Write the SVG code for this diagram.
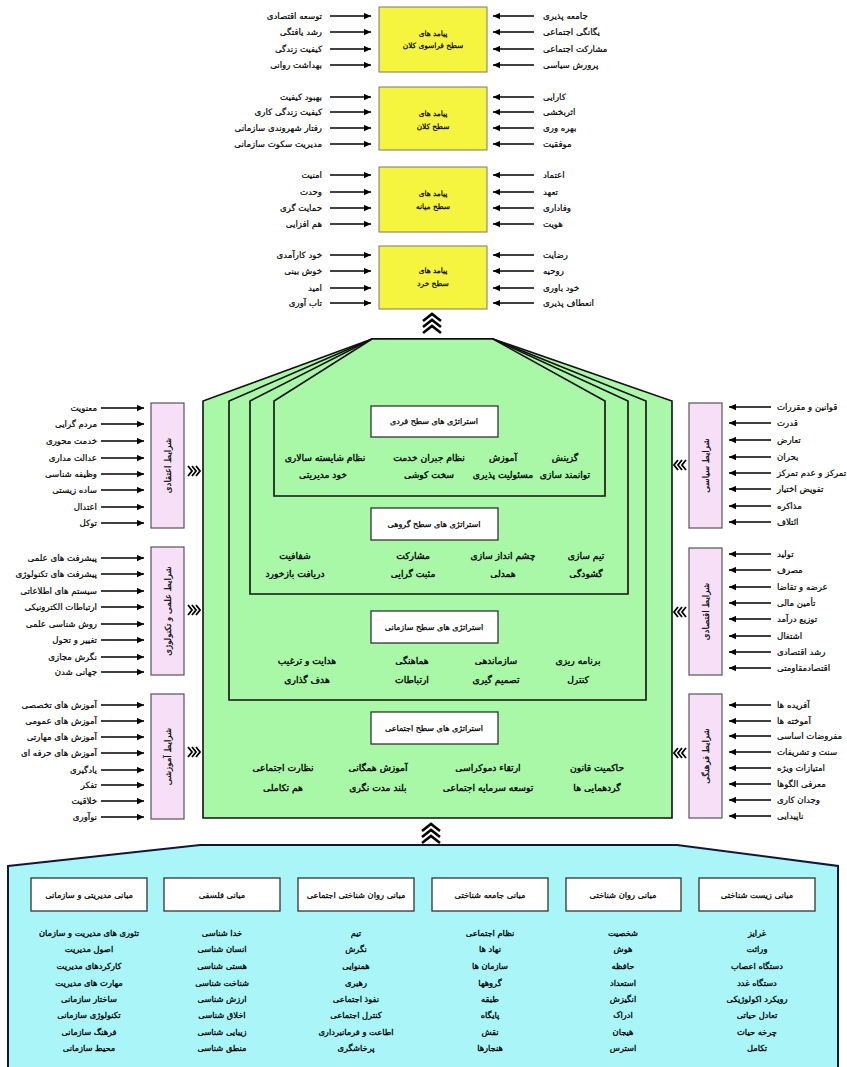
<svg xmlns="http://www.w3.org/2000/svg" width="847" height="1067" viewBox="0 0 847 1067">
<defs>
<marker id="ah" viewBox="0 0 10 10" refX="10" refY="5" markerWidth="8" markerHeight="7" orient="auto" markerUnits="userSpaceOnUse"><path d="M0,0.5 L10,5 L0,9.5 Z" fill="#000"/></marker>
<style>
text{font-family:"DejaVu Sans","Noto Sans",sans-serif;fill:#000;stroke:#000;dominant-baseline:central}
.lr{font-size:8.6px;stroke-width:0.2;text-anchor:end}
.ll{font-size:8.6px;stroke-width:0.2;text-anchor:start}
.bx{font-size:7.4px;stroke-width:0.25;text-anchor:middle}
.it{font-size:9.2px;stroke-width:0.35;text-anchor:middle}
.hd{font-size:8px;stroke-width:0.25;text-anchor:middle}
.hd2{font-size:8.3px;stroke-width:0.25;text-anchor:middle}
.vt{font-size:8.6px;stroke-width:0.2;text-anchor:middle}
.bt{font-size:8.3px;stroke-width:0.3;text-anchor:middle}
.ar{stroke:#000;stroke-width:1.4;fill:none;marker-end:url(#ah)}
.yel{fill:#f5f540;stroke:#777;stroke-width:1}
.pink{fill:#f8dff8;stroke:#555;stroke-width:1.2}
.wht{fill:#fff;stroke:#333;stroke-width:1.3}
.grn{fill:#a8f8a8;stroke:#111;stroke-width:1.6}
.chev{fill:none;stroke:#000;stroke-width:2.6}
.chs{fill:none;stroke:#000;stroke-width:1.8}
</style>
</defs>

<!-- Connectors -->
<g id="connectors">
  <line class="ar" x1="330" y1="16" x2="371" y2="16"/><line class="ar" x1="330" y1="32" x2="371" y2="32"/><line class="ar" x1="330" y1="49" x2="371" y2="49"/><line class="ar" x1="330" y1="65" x2="371" y2="65"/>
  <line class="ar" x1="330" y1="97" x2="371" y2="97"/><line class="ar" x1="330" y1="112" x2="371" y2="112"/><line class="ar" x1="330" y1="128" x2="371" y2="128"/><line class="ar" x1="330" y1="144" x2="371" y2="144"/>
  <line class="ar" x1="330" y1="175" x2="371" y2="175"/><line class="ar" x1="330" y1="192" x2="371" y2="192"/><line class="ar" x1="330" y1="208" x2="371" y2="208"/><line class="ar" x1="330" y1="224" x2="371" y2="224"/>
  <line class="ar" x1="330" y1="255" x2="371" y2="255"/><line class="ar" x1="330" y1="271" x2="371" y2="271"/><line class="ar" x1="330" y1="288" x2="371" y2="288"/><line class="ar" x1="330" y1="303" x2="371" y2="303"/>
  <line class="ar" x1="534" y1="16" x2="493" y2="16"/><line class="ar" x1="534" y1="32" x2="493" y2="32"/><line class="ar" x1="534" y1="49" x2="493" y2="49"/><line class="ar" x1="534" y1="65" x2="493" y2="65"/>
  <line class="ar" x1="534" y1="97" x2="493" y2="97"/><line class="ar" x1="534" y1="112" x2="493" y2="112"/><line class="ar" x1="534" y1="128" x2="493" y2="128"/><line class="ar" x1="534" y1="144" x2="493" y2="144"/>
  <line class="ar" x1="534" y1="175" x2="493" y2="175"/><line class="ar" x1="534" y1="192" x2="493" y2="192"/><line class="ar" x1="534" y1="208" x2="493" y2="208"/><line class="ar" x1="534" y1="224" x2="493" y2="224"/>
  <line class="ar" x1="534" y1="255" x2="493" y2="255"/><line class="ar" x1="534" y1="271" x2="493" y2="271"/><line class="ar" x1="534" y1="288" x2="493" y2="288"/><line class="ar" x1="534" y1="303" x2="493" y2="303"/>
  <line class="ar" x1="101" y1="408" x2="144" y2="408"/><line class="ar" x1="101" y1="424" x2="144" y2="424"/><line class="ar" x1="101" y1="441" x2="144" y2="441"/><line class="ar" x1="101" y1="458" x2="144" y2="458"/><line class="ar" x1="101" y1="474" x2="144" y2="474"/><line class="ar" x1="101" y1="490" x2="144" y2="490"/><line class="ar" x1="101" y1="507" x2="144" y2="507"/><line class="ar" x1="101" y1="523" x2="144" y2="523"/>
  <line class="ar" x1="101" y1="558" x2="144" y2="558"/><line class="ar" x1="101" y1="574" x2="144" y2="574"/><line class="ar" x1="101" y1="591" x2="144" y2="591"/><line class="ar" x1="101" y1="607" x2="144" y2="607"/><line class="ar" x1="101" y1="624" x2="144" y2="624"/><line class="ar" x1="101" y1="640" x2="144" y2="640"/><line class="ar" x1="101" y1="657" x2="144" y2="657"/><line class="ar" x1="101" y1="672" x2="144" y2="672"/>
  <line class="ar" x1="101" y1="705" x2="144" y2="705"/><line class="ar" x1="101" y1="721" x2="144" y2="721"/><line class="ar" x1="101" y1="737" x2="144" y2="737"/><line class="ar" x1="101" y1="753" x2="144" y2="753"/><line class="ar" x1="101" y1="770" x2="144" y2="770"/><line class="ar" x1="101" y1="785" x2="144" y2="785"/><line class="ar" x1="101" y1="801" x2="144" y2="801"/><line class="ar" x1="101" y1="817" x2="144" y2="817"/>
  <line class="ar" x1="771" y1="407" x2="729" y2="407"/><line class="ar" x1="771" y1="423" x2="729" y2="423"/><line class="ar" x1="771" y1="440" x2="729" y2="440"/><line class="ar" x1="771" y1="457" x2="729" y2="457"/><line class="ar" x1="771" y1="473" x2="729" y2="473"/><line class="ar" x1="771" y1="489" x2="729" y2="489"/><line class="ar" x1="771" y1="506" x2="729" y2="506"/><line class="ar" x1="771" y1="522" x2="729" y2="522"/>
  <line class="ar" x1="771" y1="554" x2="729" y2="554"/><line class="ar" x1="771" y1="570" x2="729" y2="570"/><line class="ar" x1="771" y1="587" x2="729" y2="587"/><line class="ar" x1="771" y1="603" x2="729" y2="603"/><line class="ar" x1="771" y1="619" x2="729" y2="619"/><line class="ar" x1="771" y1="636" x2="729" y2="636"/><line class="ar" x1="771" y1="652" x2="729" y2="652"/><line class="ar" x1="771" y1="668" x2="729" y2="668"/>
  <line class="ar" x1="771" y1="705" x2="729" y2="705"/><line class="ar" x1="771" y1="721" x2="729" y2="721"/><line class="ar" x1="771" y1="736" x2="729" y2="736"/><line class="ar" x1="771" y1="752" x2="729" y2="752"/><line class="ar" x1="771" y1="768" x2="729" y2="768"/><line class="ar" x1="771" y1="784" x2="729" y2="784"/><line class="ar" x1="771" y1="800" x2="729" y2="800"/><line class="ar" x1="771" y1="816" x2="729" y2="816"/>
  <polyline class="chev" points="423,321 432,314 441,321"/><polyline class="chev" points="423,327 432,320 441,327"/><polyline class="chev" points="423,333 432,326 441,333"/>
  <polyline class="chev" points="422,831 431,824 440,831"/><polyline class="chev" points="422,837 431,830 440,837"/><polyline class="chev" points="422,843 431,836 440,843"/>
  <polyline class="chs" points="188,466 192,471 188,476"/><polyline class="chs" points="192,466 196,471 192,476"/><polyline class="chs" points="196,466 200,471 196,476"/>
  <polyline class="chs" points="188,605 192,610 188,615"/><polyline class="chs" points="192,605 196,610 192,615"/><polyline class="chs" points="196,605 200,610 196,615"/>
  <polyline class="chs" points="188,747 192,752 188,757"/><polyline class="chs" points="192,747 196,752 192,757"/><polyline class="chs" points="196,747 200,752 196,757"/>
  <polyline class="chs" points="686,460 682,465 686,470"/><polyline class="chs" points="682,460 678,465 682,470"/><polyline class="chs" points="678,460 674,465 678,470"/>
  <polyline class="chs" points="686,607 682,612 686,617"/><polyline class="chs" points="682,607 678,612 682,617"/><polyline class="chs" points="678,607 674,612 678,617"/>
  <polyline class="chs" points="686,748 682,753 686,758"/><polyline class="chs" points="682,748 678,753 682,758"/><polyline class="chs" points="678,748 674,753 678,758"/>
</g>

<!-- Top outcome boxes -->
<g id="outcome-macro-plus">
  <rect class="yel" x="379" y="7" width="108" height="65"/>
  <text class="bx" x="433" y="33">پیامد های</text><text class="bx" x="433" y="45">سطح فراسوی کلان</text>
  <text class="lr" x="322" y="16">توسعه اقتصادی</text><text class="lr" x="322" y="32">رشد یافتگی</text><text class="lr" x="322" y="49">کیفیت زندگی</text><text class="lr" x="322" y="65">بهداشت روانی</text>
  <text class="ll" x="543" y="16">جامعه پذیری</text><text class="ll" x="543" y="32">یگانگی اجتماعی</text><text class="ll" x="543" y="49">مشارکت اجتماعی</text><text class="ll" x="543" y="65">پرورش سیاسی</text>
</g>
<g id="outcome-macro">
  <rect class="yel" x="379" y="87" width="108" height="63"/>
  <text class="bx" x="433" y="113">پیامد های</text><text class="bx" x="433" y="126">سطح کلان</text>
  <text class="lr" x="322" y="97">بهبود کیفیت</text><text class="lr" x="322" y="112">کیفیت زندگی کاری</text><text class="lr" x="322" y="128">رفتار شهروندی سازمانی</text><text class="lr" x="322" y="144">مدیریت سکوت سازمانی</text>
  <text class="ll" x="543" y="97">کارایی</text><text class="ll" x="543" y="112">اثربخشی</text><text class="ll" x="543" y="128">بهره وری</text><text class="ll" x="543" y="144">موفقیت</text>
</g>
<g id="outcome-meso">
  <rect class="yel" x="379" y="167" width="108" height="65"/>
  <text class="bx" x="433" y="193">پیامد های</text><text class="bx" x="433" y="206">سطح میانه</text>
  <text class="lr" x="322" y="175">امنیت</text><text class="lr" x="322" y="192">وحدت</text><text class="lr" x="322" y="208">حمایت گری</text><text class="lr" x="322" y="224">هم افزایی</text>
  <text class="ll" x="543" y="175">اعتماد</text><text class="ll" x="543" y="192">تعهد</text><text class="ll" x="543" y="208">وفاداری</text><text class="ll" x="543" y="224">هویت</text>
</g>
<g id="outcome-micro">
  <rect class="yel" x="379" y="246" width="108" height="63"/>
  <text class="bx" x="433" y="270">پیامد های</text><text class="bx" x="433" y="283">سطح خرد</text>
  <text class="lr" x="322" y="255">خود کارآمدی</text><text class="lr" x="322" y="271">خوش بینی</text><text class="lr" x="322" y="288">امید</text><text class="lr" x="322" y="303">تاب آوری</text>
  <text class="ll" x="543" y="255">رضایت</text><text class="ll" x="543" y="271">روحیه</text><text class="ll" x="543" y="288">خود باوری</text><text class="ll" x="543" y="303">انعطاف پذیری</text>
</g>

<!-- Central strategies -->
<g id="strategy-social">
  <polygon class="grn" points="372,339 493,339 672,401 672,818 203,818 203,401"/>
</g>
<g id="strategy-organizational">
  <polygon class="grn" points="372,339 493,339 646,401 646,700 229,700 229,401"/>
</g>
<g id="strategy-group">
  <polygon class="grn" points="372,339 493,339 628,401 628,594 250,594 250,401"/>
</g>
<g id="strategy-individual">
  <polygon class="grn" points="372,339 493,339 605,401 605,496 274,496 274,401"/>
  <rect class="wht" x="371" y="406" width="127" height="31"/>
  <text class="hd" x="434" y="421">استراتژی های سطح فردی</text>
  <text class="it" x="565" y="457">گزینش</text><text class="it" x="565" y="474">توانمند سازی</text>
  <text class="it" x="503" y="457">آموزش</text><text class="it" x="503" y="474">مسئولیت پذیری</text>
  <text class="it" x="429" y="457">نظام جبران خدمت</text><text class="it" x="429" y="474">سخت کوشی</text>
  <text class="it" x="325" y="457">نظام شایسته سالاری</text><text class="it" x="323" y="474">خود مدیریتی</text>
</g>
<g id="strategy-group-content">
  <rect class="wht" x="371" y="508" width="127" height="32"/>
  <text class="hd" x="434" y="524">استراتژی های سطح گروهی</text>
  <text class="it" x="586" y="555">تیم سازی</text><text class="it" x="586" y="573">گشودگی</text>
  <text class="it" x="503" y="555">چشم انداز سازی</text><text class="it" x="503" y="573">همدلی</text>
  <text class="it" x="413" y="555">مشارکت</text><text class="it" x="413" y="573">مثبت گرایی</text>
  <text class="it" x="295" y="555">شفافیت</text><text class="it" x="295" y="573">دریافت بازخورد</text>
</g>
<g id="strategy-organizational-content">
  <rect class="wht" x="371" y="611" width="127" height="32"/>
  <text class="hd" x="434" y="627">استراتژی های سطح سازمانی</text>
  <text class="it" x="578" y="660">برنامه ریزی</text><text class="it" x="578" y="679">کنترل</text>
  <text class="it" x="496" y="660">سازماندهی</text><text class="it" x="496" y="679">تصمیم گیری</text>
  <text class="it" x="412" y="660">هماهنگی</text><text class="it" x="412" y="679">ارتباطات</text>
  <text class="it" x="307" y="660">هدایت و ترغیب</text><text class="it" x="307" y="679">هدف گذاری</text>
</g>
<g id="strategy-social-content">
  <rect class="wht" x="371" y="712" width="127" height="32"/>
  <text class="hd" x="434" y="728">استراتژی های سطح اجتماعی</text>
  <text class="it" x="597" y="767">حاکمیت قانون</text><text class="it" x="597" y="787">گردهمایی ها</text>
  <text class="it" x="488" y="767">ارتقاء دموکراسی</text><text class="it" x="488" y="787">توسعه سرمایه اجتماعی</text>
  <text class="it" x="378" y="767">آموزش همگانی</text><text class="it" x="378" y="787">بلند مدت نگری</text>
  <text class="it" x="283" y="767">نظارت اجتماعی</text><text class="it" x="283" y="787">هم تکاملی</text>
</g>

<!-- Left conditions -->
<g id="cond-belief">
  <rect class="pink" x="151" y="403" width="33" height="125"/>
  <text class="vt" transform="translate(167.5,465.5) rotate(-90)">شرایط اعتقادی</text>
  <text class="lr" x="97" y="408">معنویت</text><text class="lr" x="97" y="424">مردم گرایی</text><text class="lr" x="97" y="441">خدمت محوری</text><text class="lr" x="97" y="458">عدالت مداری</text><text class="lr" x="97" y="474">وظیفه شناسی</text><text class="lr" x="97" y="490">ساده زیستی</text><text class="lr" x="97" y="507">اعتدال</text><text class="lr" x="97" y="523">توکل</text>
</g>
<g id="cond-science">
  <rect class="pink" x="151" y="547" width="33" height="128"/>
  <text class="vt" transform="translate(167.5,611) rotate(-90)">شرایط علمی و تکنولوژی</text>
  <text class="lr" x="97" y="558">پیشرفت های علمی</text><text class="lr" x="97" y="574">پیشرفت های تکنولوژی</text><text class="lr" x="97" y="591">سیستم های اطلاعاتی</text><text class="lr" x="97" y="607">ارتباطات الکترونیکی</text><text class="lr" x="97" y="624">روش شناسی علمی</text><text class="lr" x="97" y="640">تغییر و تحول</text><text class="lr" x="97" y="657">نگرش مجازی</text><text class="lr" x="97" y="672">جهانی شدن</text>
</g>
<g id="cond-education">
  <rect class="pink" x="151" y="694" width="33" height="125"/>
  <text class="vt" transform="translate(167.5,756.5) rotate(-90)">شرایط آموزشی</text>
  <text class="lr" x="97" y="705">آموزش های تخصصی</text><text class="lr" x="97" y="721">آموزش های عمومی</text><text class="lr" x="97" y="737">آموزش های مهارتی</text><text class="lr" x="97" y="753">آموزش های حرفه ای</text><text class="lr" x="97" y="770">یادگیری</text><text class="lr" x="97" y="785">تفکر</text><text class="lr" x="97" y="801">خلاقیت</text><text class="lr" x="97" y="817">نوآوری</text>
</g>

<!-- Right conditions -->
<g id="cond-political">
  <rect class="pink" x="689" y="403" width="33" height="125"/>
  <text class="vt" transform="translate(705.5,465.5) rotate(-90)">شرایط سیاسی</text>
  <text class="ll" x="777" y="407">قوانین و مقررات</text><text class="ll" x="777" y="423">قدرت</text><text class="ll" x="777" y="440">تعارض</text><text class="ll" x="777" y="457">بحران</text><text class="ll" x="777" y="473">تمرکز و عدم تمرکز</text><text class="ll" x="777" y="489">تفویض اختیار</text><text class="ll" x="777" y="506">مذاکره</text><text class="ll" x="777" y="522">ائتلاف</text>
</g>
<g id="cond-economic">
  <rect class="pink" x="689" y="548" width="33" height="127"/>
  <text class="vt" transform="translate(705.5,611.5) rotate(-90)">شرایط اقتصادی</text>
  <text class="ll" x="777" y="554">تولید</text><text class="ll" x="777" y="570">مصرف</text><text class="ll" x="777" y="587">عرضه و تقاضا</text><text class="ll" x="777" y="603">تأمین مالی</text><text class="ll" x="777" y="619">توزیع درآمد</text><text class="ll" x="777" y="636">اشتغال</text><text class="ll" x="777" y="652">رشد اقتصادی</text><text class="ll" x="777" y="668">اقتصادمقاومتی</text>
</g>
<g id="cond-cultural">
  <rect class="pink" x="689" y="694" width="33" height="124"/>
  <text class="vt" transform="translate(705.5,756) rotate(-90)">شرایط فرهنگی</text>
  <text class="ll" x="777" y="705">آفریده ها</text><text class="ll" x="777" y="721">آموخته ها</text><text class="ll" x="777" y="736">مفروضات اساسی</text><text class="ll" x="777" y="752">سنت و تشریفات</text><text class="ll" x="777" y="768">امتیازات ویژه</text><text class="ll" x="777" y="784">معرفی الگوها</text><text class="ll" x="777" y="800">وجدان کاری</text><text class="ll" x="777" y="816">ناپیدایی</text>
</g>

<!-- Bottom foundations -->
<g id="foundations">
  <polygon points="8,866 200,845 677,845 838,866 838,1075 8,1075" fill="#a9f5f8" stroke="#101838" stroke-width="2"/>
</g>
<g id="found-management">
  <rect class="wht" x="31" y="878" width="116" height="33"/>
  <text class="hd2" x="89" y="894.5">مبانی مدیریتی و سازمانی</text>
  <text class="bt" x="89" y="933">تئوری های مدیریت و سازمان</text><text class="bt" x="89" y="949">اصول مدیریت</text><text class="bt" x="89" y="966">کارکردهای مدیریت</text><text class="bt" x="89" y="983">مهارت های مدیریت</text><text class="bt" x="89" y="999">ساختار سازمانی</text><text class="bt" x="89" y="1015">تکنولوژی سازمانی</text><text class="bt" x="89" y="1032">فرهنگ سازمانی</text><text class="bt" x="89" y="1048">محیط سازمانی</text>
</g>
<g id="found-philosophy">
  <rect class="wht" x="164" y="878" width="116" height="33"/>
  <text class="hd2" x="222" y="894.5">مبانی فلسفی</text>
  <text class="bt" x="222" y="933">خدا شناسی</text><text class="bt" x="222" y="949">انسان شناسی</text><text class="bt" x="222" y="966">هستی شناسی</text><text class="bt" x="222" y="983">شناخت شناسی</text><text class="bt" x="222" y="999">ارزش شناسی</text><text class="bt" x="222" y="1015">اخلاق شناسی</text><text class="bt" x="222" y="1032">زیبایی شناسی</text><text class="bt" x="222" y="1048">منطق شناسی</text>
</g>
<g id="found-social-psych">
  <rect class="wht" x="298" y="878" width="116" height="33"/>
  <text class="hd2" x="356" y="894.5">مبانی روان شناختی اجتماعی</text>
  <text class="bt" x="356" y="933">تیم</text><text class="bt" x="356" y="949">نگرش</text><text class="bt" x="356" y="966">همنوایی</text><text class="bt" x="356" y="983">رهبری</text><text class="bt" x="356" y="999">نفوذ اجتماعی</text><text class="bt" x="356" y="1015">کنترل اجتماعی</text><text class="bt" x="356" y="1032">اطاعت و فرمانبرداری</text><text class="bt" x="356" y="1048">پرخاشگری</text>
</g>
<g id="found-sociology">
  <rect class="wht" x="432" y="878" width="116" height="33"/>
  <text class="hd2" x="490" y="894.5">مبانی جامعه شناختی</text>
  <text class="bt" x="490" y="933">نظام اجتماعی</text><text class="bt" x="490" y="949">نهاد ها</text><text class="bt" x="490" y="966">سازمان ها</text><text class="bt" x="490" y="983">گروهها</text><text class="bt" x="490" y="999">طبقه</text><text class="bt" x="490" y="1015">پایگاه</text><text class="bt" x="490" y="1032">نقش</text><text class="bt" x="490" y="1048">هنجارها</text>
</g>
<g id="found-psychology">
  <rect class="wht" x="566" y="878" width="115" height="33"/>
  <text class="hd2" x="623" y="894.5">مبانی روان شناختی</text>
  <text class="bt" x="623" y="933">شخصیت</text><text class="bt" x="623" y="949">هوش</text><text class="bt" x="623" y="966">حافظه</text><text class="bt" x="623" y="983">استعداد</text><text class="bt" x="623" y="999">انگیزش</text><text class="bt" x="623" y="1015">ادراک</text><text class="bt" x="623" y="1032">هیجان</text><text class="bt" x="623" y="1048">استرس</text>
</g>
<g id="found-biology">
  <rect class="wht" x="699" y="878" width="116" height="33"/>
  <text class="hd2" x="757" y="894.5">مبانی زیست شناختی</text>
  <text class="bt" x="757" y="933">غرایز</text><text class="bt" x="757" y="949">وراثت</text><text class="bt" x="757" y="966">دستگاه اعصاب</text><text class="bt" x="757" y="983">دستگاه غدد</text><text class="bt" x="757" y="999">رویکرد اکولوژیکی</text><text class="bt" x="757" y="1015">تعادل حیاتی</text><text class="bt" x="757" y="1032">چرخه حیات</text><text class="bt" x="757" y="1048">تکامل</text>
</g>
</svg>
